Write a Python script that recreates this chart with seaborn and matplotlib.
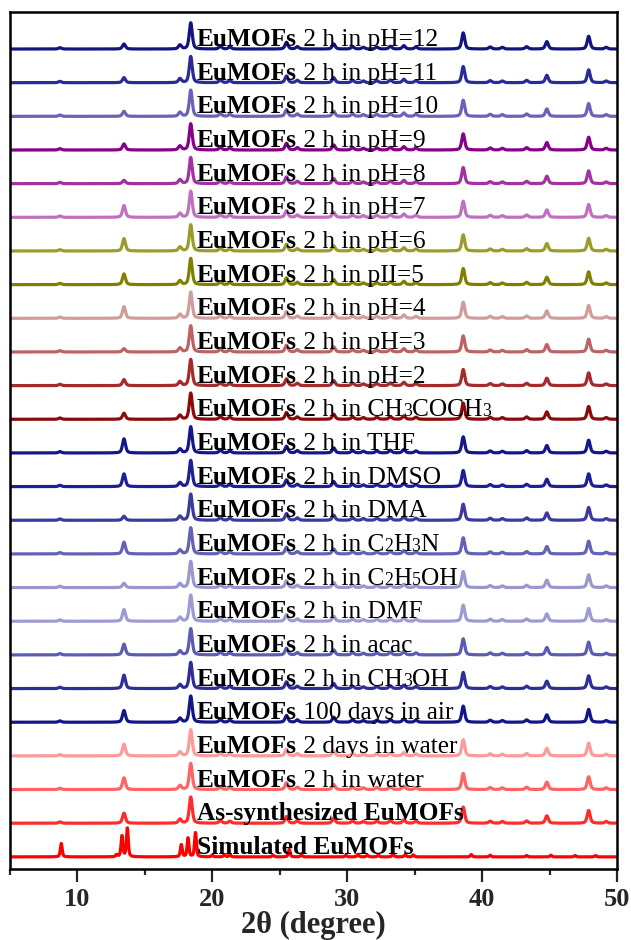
import re
import numpy as np
import pandas as pd
import matplotlib
matplotlib.use("Agg")
import matplotlib.pyplot as plt
import seaborn as sns
from matplotlib.ticker import MultipleLocator

# ---------------- data (bottom trace first) ----------------
label_bold = ["Simulated EuMOFs", "As-synthesized EuMOFs"] + ["EuMOFs"] * 23
label_rest = ["", "",
              " 2 h in water", " 2 days in water", " 100 days in air",
              " 2 h in CH_3OH", " 2 h in acac", " 2 h in DMF",
              " 2 h in C_2H_5OH", " 2 h in C_2H_3N", " 2 h in DMA",
              " 2 h in DMSO", " 2 h in THF", " 2 h in CH_3COCH_3",
              " 2 h in pH=2", " 2 h in pH=3", " 2 h in pH=4",
              " 2 h in pII=5", " 2 h in pH=6", " 2 h in pH=7",
              " 2 h in pH=8", " 2 h in pH=9", " 2 h in pH=10",
              " 2 h in pH=11", " 2 h in pH=12"]
colors = ["#ff0000", "#ff2c2c", "#ff6464", "#ff9a9a", "#15158a",
          "#2e2e98", "#5c5cb2", "#9c9cd2", "#9898cc", "#6262b6",
          "#3a3aa0", "#1e1e96", "#16168c", "#8b0a0a", "#a52a2a",
          "#bb6464", "#d09c9c", "#808000", "#9c9c2a", "#c070c0",
          "#a232a2", "#880088", "#6a62b8", "#2a2a98", "#141480"]

# simulated pattern: peak positions (2theta) and heights
sim_pos = [8.8, 12.9, 13.3, 13.7, 17.7, 18.2, 18.75, 20.0, 20.9, 21.3,
           24.5, 25.7, 26.6, 29.9, 30.8, 31.5, 32.3, 33.4, 34.3, 34.9,
           39.2, 40.6, 43.3, 45.1, 46.9, 48.4]
sim_int = [0.40, 0.06, 0.62, 0.85, 0.36, 0.56, 0.72, 0.05, 0.07, 0.07,
           0.05, 0.22, 0.06, 0.05, 0.08, 0.05, 0.05, 0.10, 0.07, 0.06,
           0.07, 0.05, 0.04, 0.05, 0.04, 0.04]

# measured patterns: common peak positions and heights
exp_pos = [8.7, 13.45, 17.6, 18.4, 20.6, 21.3, 25.5, 26.3, 29.0, 30.4,
           31.2, 32.2, 33.2, 34.2, 35.1, 38.6, 40.6, 41.5, 43.3, 44.8,
           47.9, 49.2]
exp_int = [0.04, 0.30, 0.12, 0.78, 0.08, 0.06, 0.20, 0.07, 0.15, 0.07,
           0.05, 0.06, 0.08, 0.10, 0.06, 0.48, 0.06, 0.05, 0.07, 0.22,
           0.38, 0.05]
# height of the 13.45 deg reflection for each measured trace (bottom to top)
peak_13 = [0.30, 0.35, 0.35, 0.35, 0.40, 0.32, 0.35, 0.13, 0.35, 0.12,
           0.38, 0.42, 0.18, 0.18, 0.10, 0.35, 0.32, 0.37, 0.35, 0.10,
           0.18, 0.15, 0.15, 0.15]

xticks = [10, 20, 30, 40, 50]


def profile(x, pos, amp, fwhm):
    y = np.zeros_like(x)
    for p, a in zip(pos, amp):
        g = np.exp(-4 * np.log(2) * ((x - p) / fwhm) ** 2)
        l = 1.0 / (1.0 + 4 * ((x - p) / fwhm) ** 2)
        y += a * (0.5 * g + 0.5 * l)
    return y


x = np.linspace(5, 50, 3000)
frames = []
for i in range(len(label_bold)):
    if i == 0:
        y = profile(x, sim_pos, sim_int, 0.16)
    else:
        amps = list(exp_int)
        amps[1] = peak_13[i - 1]
        y = profile(x, exp_pos, amps, 0.26)
    frames.append(pd.DataFrame({"two_theta": x, "intensity": y + i,
                                "sample": f"s{i:02d}"}))
df = pd.concat(frames, ignore_index=True)
palette = {f"s{i:02d}": c for i, c in enumerate(colors)}

# ---------------- plot ----------------
sns.set_style("ticks")
plt.rcParams["font.family"] = ["Liberation Serif", "DejaVu Sans"]

fig = plt.figure(figsize=(6.31, 9.40), dpi=100)
ax = fig.add_axes([10 / 631, 71 / 940, 607 / 631, 857 / 940])

sns.lineplot(data=df, x="two_theta", y="intensity", hue="sample",
             palette=palette, legend=False, estimator=None, sort=False,
             linewidth=2.3, ax=ax)

ax.set_xlim(5, 50)
ax.set_ylim(-0.36, 25.1)
ax.set_xticks(xticks)
ax.set_xticklabels([str(t) for t in xticks])
ax.xaxis.set_minor_locator(MultipleLocator(5))
ax.set_yticks([])
ax.set_ylabel("")
ax.set_xlabel("2θ (degree)", fontsize=22, fontweight="bold", labelpad=0)
ax.tick_params(axis="x", which="major", length=9.5, width=1.6,
               direction="out", labelsize=19, pad=4)
ax.tick_params(axis="x", which="minor", length=4.5, width=1.6,
               direction="out")
for lab in ax.get_xticklabels():
    lab.set_fontweight("bold")
for sp in ax.spines.values():
    sp.set_visible(True)
    sp.set_linewidth(1.8)
    sp.set_color("black")

FS = 18.3
x_text = 18.86
for i in range(len(label_bold)):
    yb = i + 0.09
    prev = ax.text(x_text, yb, label_bold[i], fontsize=FS, fontweight="bold",
                   va="baseline", ha="left", color="black", zorder=5)
    rest = label_rest[i]
    if rest:
        parts = re.split(r"_(\d)", rest)
        for k, part in enumerate(parts):
            if part == "":
                continue
            small = (k % 2 == 1)
            prev = ax.annotate(part, xy=(1, yb), xycoords=(prev, "data"),
                               fontsize=FS * 0.7 if small else FS,
                               va="baseline", ha="left", color="black",
                               zorder=5)

fig.savefig("out.png", dpi=100)
